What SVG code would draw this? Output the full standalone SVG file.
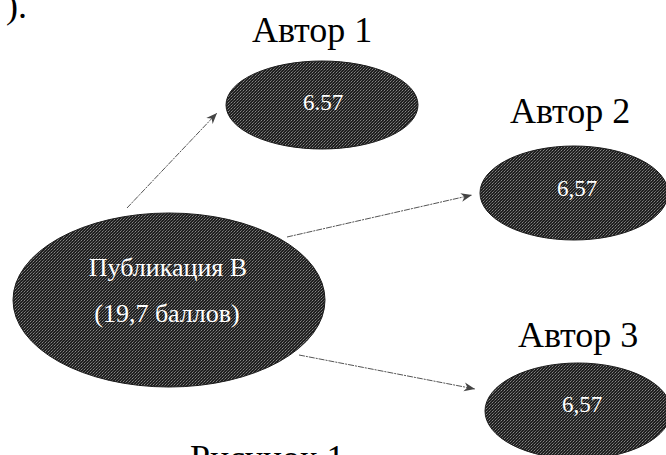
<svg xmlns="http://www.w3.org/2000/svg" width="666" height="455" viewBox="0 0 666 455">
<defs>
<pattern id="tex" width="3" height="3" patternUnits="userSpaceOnUse">
<rect width="3" height="3" fill="#1f1f1f"/>
<rect x="0" y="0" width="1" height="1" fill="#858585"/>
<rect x="2" y="1" width="1" height="1" fill="#555"/>
<rect x="1" y="2" width="1" height="1" fill="#666"/>
</pattern>
<marker id="arr" viewBox="0 0 10 10" refX="10" refY="5" markerWidth="11" markerHeight="11" markerUnits="userSpaceOnUse" orient="auto">
<path d="M0,1 L10,5 L0,9 L3,5 Z" fill="#444"/>
</marker>
</defs>
<style>
.node{fill:url(#tex);stroke:#1a1a1a;stroke-width:1}
.in{font-family:"Liberation Serif","Times New Roman",serif;fill:#fff;text-anchor:middle}
.lbl{font-family:"Liberation Serif","Times New Roman",serif;fill:#000;font-size:36px}
.conn{stroke:#555;stroke-width:1;stroke-dasharray:6 1 2 1;fill:none;marker-end:url(#arr)}
</style>
<rect width="666" height="455" fill="#fff"/>
<text class="lbl" x="6" y="18">).</text>
<g id="connectors">
<line class="conn" x1="127" y1="208" x2="217" y2="113"/>
<line class="conn" x1="287" y1="237" x2="472" y2="195"/>
<line class="conn" x1="299" y1="355" x2="475" y2="389"/>
</g>
<g id="main">
<ellipse class="node" cx="169" cy="300" rx="156" ry="87"/>
<text class="in" x="168" y="276" font-size="26">Публикация В</text>
<text class="in" x="167" y="322" font-size="26">(19,7 баллов)</text>
</g>
<g id="author1">
<text class="lbl" x="252" y="42">Автор 1</text>
<ellipse class="node" cx="322" cy="105" rx="96" ry="44"/>
<text class="in" x="323" y="110" font-size="23">6.57</text>
</g>
<g id="author2">
<text class="lbl" x="510" y="123">Автор 2</text>
<ellipse class="node" cx="574" cy="193" rx="94" ry="47"/>
<text class="in" x="577" y="196" font-size="23">6,57</text>
</g>
<g id="author3">
<text class="lbl" x="518" y="347">Автор 3</text>
<ellipse class="node" cx="578" cy="411" rx="93" ry="48"/>
<text class="in" x="582" y="412" font-size="23">6,57</text>
</g>
<text class="lbl" x="190" y="470">Рисунок 1</text>
</svg>
